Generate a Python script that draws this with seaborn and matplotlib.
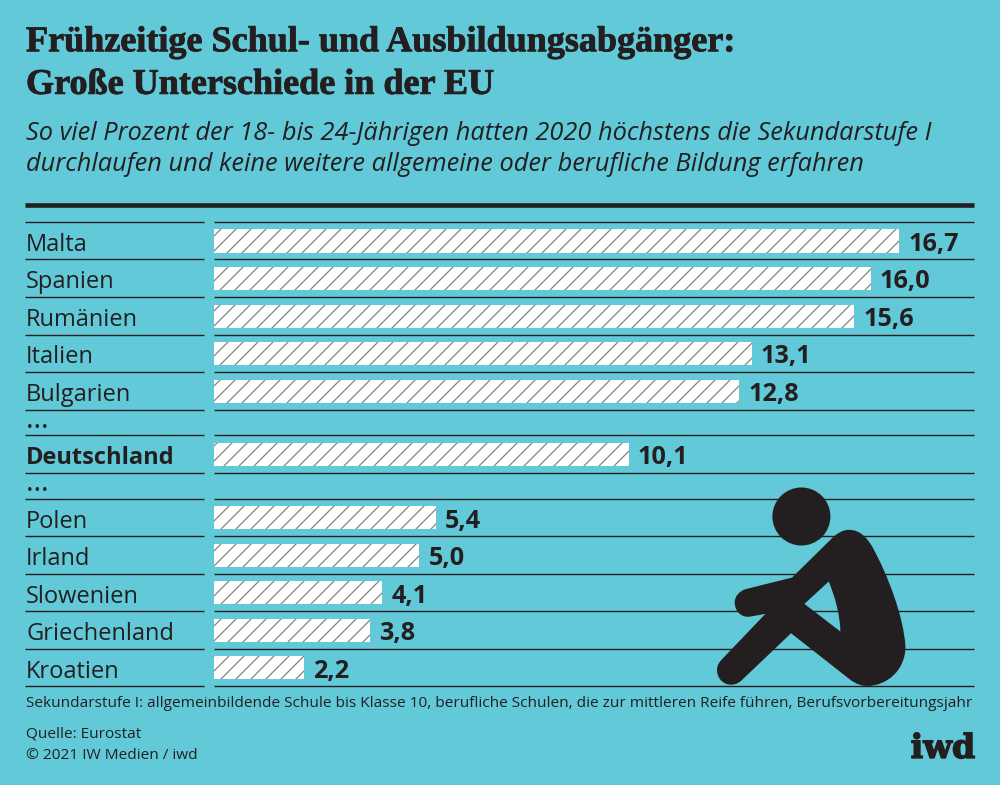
import numpy as np
import pandas as pd
import matplotlib
matplotlib.use("Agg")
import matplotlib.pyplot as plt
import matplotlib.patheffects as pe
from matplotlib.patches import PathPatch, Circle
from matplotlib.path import Path
import seaborn as sns

labels = ["Malta", "Spanien", "Rumänien", "Italien", "Bulgarien", "…",
          "Deutschland", "…", "Polen", "Irland", "Slowenien", "Griechenland", "Kroatien"]
values = [16.7, 16.0, 15.6, 13.1, 12.8, np.nan, 10.1, np.nan, 5.4, 5.0, 4.1, 3.8, 2.2]

title_lines = ["Frühzeitige Schul- und Ausbildungsabgänger:", "Große Unterschiede in der EU"]
subtitle_lines = ["So viel Prozent der 18- bis 24-Jährigen hatten 2020 höchstens die Sekundarstufe I",
                  "durchlaufen und keine weitere allgemeine oder berufliche Bildung erfahren"]
footnote = "Sekundarstufe I: allgemeinbildende Schule bis Klasse 10, berufliche Schulen, die zur mittleren Reife führen, Berufsvorbereitungsjahr"
source = "Quelle: Eurostat"
copyright_text = "© 2021 IW Medien / iwd"

BG = "#61c9d8"
DARK = "#231f20"
SANS = "Open Sans"
TITLE_FONT = "Liberation Serif"
LOGO_FONT = "DejaVu Serif"

# hatch tile follows the dpi: 90 dpi gives the 15 px line spacing of the original
DPI = 90
S = 100 / DPI

sns.set_theme(style="white")
plt.rcParams["font.family"] = [SANS, "DejaVu Sans"]
plt.rcParams["hatch.linewidth"] = 1.0

# row tops in pixels, the "..." rows are lower than the others
row_h = 37.5
gap_h = 25.8
top = 222.3
tops = [top]
for lab in labels:
    tops.append(tops[-1] + (gap_h if lab == "…" else row_h))
tops = np.array(tops)
centers = tops[:-1] + (tops[1:] - tops[:-1]) / 2 + 0.3

df = pd.DataFrame({"land": labels, "wert": values, "y": centers})
bars = df.dropna()

fig = plt.figure(figsize=(1000.5 / DPI, 785.5 / DPI), dpi=DPI, facecolor=BG)

# overlay in pixel coordinates for texts, rules and the figure
bg = fig.add_axes([0, 0, 1, 1])
bg.set_xlim(0, 1000)
bg.set_ylim(785, 0)
bg.axis("off")

ax = fig.add_axes([0.214, 0, 0.76, 1])
ax.patch.set_alpha(0)
sns.barplot(data=bars, x="wert", y="y", orient="h", native_scale=True, ax=ax,
            color="white", saturation=1, width=23 / row_h, linewidth=0,
            edgecolor="#82827e", hatch="//")
ax.set_xlim(0, 760 / 41.02)
ax.set_ylim(785, 0)
ax.axis("off")
value_texts = ax.bar_label(ax.containers[0],
                           labels=[f"{v:.1f}".replace(".", ",") for v in bars["wert"]],
                           padding=6.5 * S, fontsize=18.2 * S, fontweight="bold", color=DARK)
for txt in value_texts:
    txt.xyann = (txt.xyann[0], txt.xyann[1] - 2.2)

for t in tops:
    bg.plot([25, 204], [t, t], color=DARK, lw=1.0 * S, solid_capstyle="butt")
    bg.plot([214, 974], [t, t], color=DARK, lw=1.0 * S, solid_capstyle="butt")
bg.plot([25, 974], [205, 205], color=DARK, lw=3.3 * S, solid_capstyle="butt")

for lab, y in zip(labels, centers):
    if lab == "…":
        bg.text(26, y - 3, lab, fontsize=21 * S, color=DARK, va="center", ha="left")
    else:
        weight = "bold" if lab == "Deutschland" else "normal"
        bg.text(26, y + 9.4, lab, fontsize=17 * S, fontweight=weight, color=DARK, va="baseline", ha="left")

heavy = [pe.withStroke(linewidth=0.6 * S, foreground=DARK)]
bg.text(26, 51.7, title_lines[0], fontsize=26 * S, fontweight="bold", family=TITLE_FONT, color=DARK,
        va="baseline", path_effects=heavy)
bg.text(26, 94.3, title_lines[1], fontsize=26 * S, fontweight="bold", family=TITLE_FONT, color=DARK,
        va="baseline", path_effects=heavy)
bg.text(26, 139.5, subtitle_lines[0], fontsize=18.25 * S, style="italic", color=DARK, va="baseline")
bg.text(26, 171, subtitle_lines[1], fontsize=18.25 * S, style="italic", color=DARK, va="baseline")
bg.text(26, 706.5, footnote, fontsize=11.08 * S, color=DARK, va="baseline")
bg.text(26, 737, source, fontsize=11.08 * S, color=DARK, va="baseline")
bg.text(26, 759, copyright_text, fontsize=11.08 * S, color=DARK, va="baseline")
bg.text(975, 758, "iwd", fontsize=24 * S, fontweight="bold", family=LOGO_FONT, color=DARK,
        va="baseline", ha="right", path_effects=[pe.withStroke(linewidth=1.0 * S, foreground=DARK)])


# sitting person
def p(x, y):
    return (700 + x / 3, 470 + y / 3)


verts = [p(445, 180),
         p(480, 180), p(500, 205), p(515, 230),
         p(560, 310), p(610, 440), p(615, 530),
         p(615, 600), p(560, 648), p(500, 648),
         p(470, 648), p(450, 630), p(435, 618),
         p(272, 490),
         p(125, 630),
         p(95, 660), p(50, 640), p(50, 600),
         p(50, 585), p(58, 575), p(65, 568),
         p(195, 432),
         p(150, 440),
         p(120, 445), p(103, 420), p(103, 398),
         p(103, 380), p(115, 365), p(135, 358),
         p(275, 323),
         p(395, 205),
         p(410, 190), p(428, 180), p(445, 180),
         p(385, 335),
         p(312, 402),
         p(420, 485),
         p(418, 430), p(405, 385), p(385, 335)]
codes = [Path.MOVETO,
         Path.CURVE4, Path.CURVE4, Path.CURVE4,
         Path.CURVE4, Path.CURVE4, Path.CURVE4,
         Path.CURVE4, Path.CURVE4, Path.CURVE4,
         Path.CURVE4, Path.CURVE4, Path.CURVE4,
         Path.LINETO,
         Path.LINETO,
         Path.CURVE4, Path.CURVE4, Path.CURVE4,
         Path.CURVE4, Path.CURVE4, Path.CURVE4,
         Path.LINETO,
         Path.LINETO,
         Path.CURVE4, Path.CURVE4, Path.CURVE4,
         Path.CURVE4, Path.CURVE4, Path.CURVE4,
         Path.LINETO,
         Path.LINETO,
         Path.CURVE4, Path.CURVE4, Path.CURVE4,
         Path.MOVETO,
         Path.LINETO,
         Path.LINETO,
         Path.CURVE4, Path.CURVE4, Path.CURVE4]
person = fig.add_axes([0, 0, 1, 1])
person.set_xlim(0, 1000)
person.set_ylim(785, 0)
person.axis("off")
person.patch.set_alpha(0)
person.add_patch(PathPatch(Path(verts, codes), facecolor=DARK, edgecolor="none"))
person.add_patch(Circle(p(303, 140), 29, facecolor=DARK, edgecolor="none"))

fig.savefig("out.png", dpi=DPI, facecolor=BG)
